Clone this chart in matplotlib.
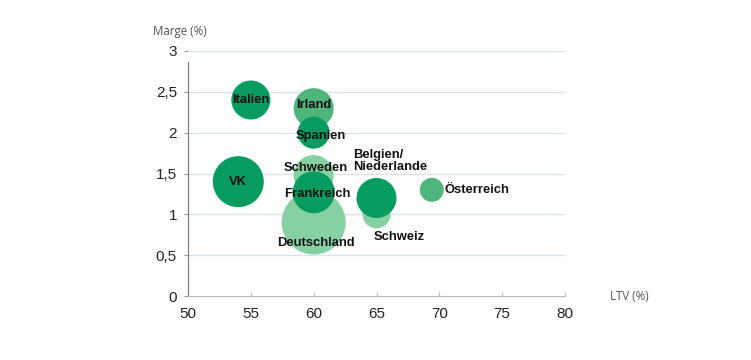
import matplotlib
matplotlib.use("Agg")
import matplotlib.pyplot as plt

countries = ["Deutschland", "Schweiz", "Irland", "Schweden", "Italien", "Spanien",
             "VK", "Frankreich", "Belgien/\nNiederlande", "Österreich"]
ltv = [60, 65, 60, 60, 55, 60, 54, 60, 65, 69.4]
marge = [0.9, 1.0, 2.3, 1.48, 2.4, 2.0, 1.4, 1.27, 1.2, 1.3]
volume = [32, 14, 20, 20, 19.5, 16, 25.5, 21, 20, 12]   # relative bubble radius
shade = ["light", "light", "mid", "light", "dark", "dark", "dark", "dark", "dark", "mid"]

x_ticks = [50, 55, 60, 65, 70, 75, 80]
y_ticks = [0, 0.5, 1, 1.5, 2, 2.5, 3]
y_tick_labels = ["0", "0,5", "1", "1,5", "2", "2,5", "3"]

colors = {"dark": "#079c5f", "mid": "#4fb57c", "light": "#86d0a2"}
# label offsets in pixels (dx, dy) and alignment
label_off = {
    "Deutschland": (2, -21, "center"),
    "Schweiz": (23, -23, "center"),
    "Irland": (0, 3, "center"),
    "Schweden": (2, 7, "center"),
    "Italien": (0, 0, "center"),
    "Spanien": (7, -3, "center"),
    "VK": (0, 0, "center"),
    "Frankreich": (4, -2, "center"),
    "Belgien/\nNiederlande": (-23, 37, "left"),
    "Österreich": (13, 0, "left"),
}

dpi = 100
fig = plt.figure(figsize=(7.51, 3.60), dpi=dpi)
fig.patch.set_facecolor("white")
ax = fig.add_axes([188 / 751, 64 / 360, 377 / 751, 245 / 360])

for c, x, y, r, s in zip(countries, ltv, marge, volume, shade):
    d_pt = 2 * r * 72 / dpi
    ax.scatter([x], [y], s=d_pt ** 2, color=colors[s], edgecolors="none", zorder=3)
    dx, dy, ha = label_off[c]
    ax.annotate(c, (x, y), xytext=(dx * 0.72, dy * 0.72), textcoords="offset points",
                ha=ha, va="center", fontsize=9.4, fontweight="bold",
                family="Liberation Sans", color="#111111", zorder=5,
                linespacing=1.0)

ax.set_xlim(50, 80)
ax.set_ylim(0, 3)
ax.set_xticks(x_ticks)
ax.set_yticks(y_ticks)
ax.set_yticklabels(y_tick_labels)
for lab in ax.get_xticklabels() + ax.get_yticklabels():
    lab.set_family("Liberation Sans")
    lab.set_fontsize(11)
    lab.set_color("#222222")

for y in y_ticks[1:]:
    ax.axhline(y, color="#d8e4ea", lw=1.0, zorder=1)

for sp in ["top", "right"]:
    ax.spines[sp].set_visible(False)
ax.spines["left"].set_bounds(0, 2.86)
ax.spines["left"].set_color("#777777")
ax.spines["bottom"].set_color("#bbbbbb")
ax.tick_params(axis="y", length=3, color="#999999", pad=5)
ax.tick_params(axis="x", length=3, color="#bbbbbb", pad=8, direction="in")
ax.set_facecolor("white")

fig.text(153 / 751, 1 - 32 / 360, "Marge (%)", fontsize=8.3, color="#555555",
         family="Open Sans", va="center", ha="left")
fig.text(610 / 751, 1 - 297 / 360, "LTV (%)", fontsize=8.3, color="#555555",
         family="Open Sans", va="center", ha="left")

fig.savefig("out.png", dpi=dpi)
